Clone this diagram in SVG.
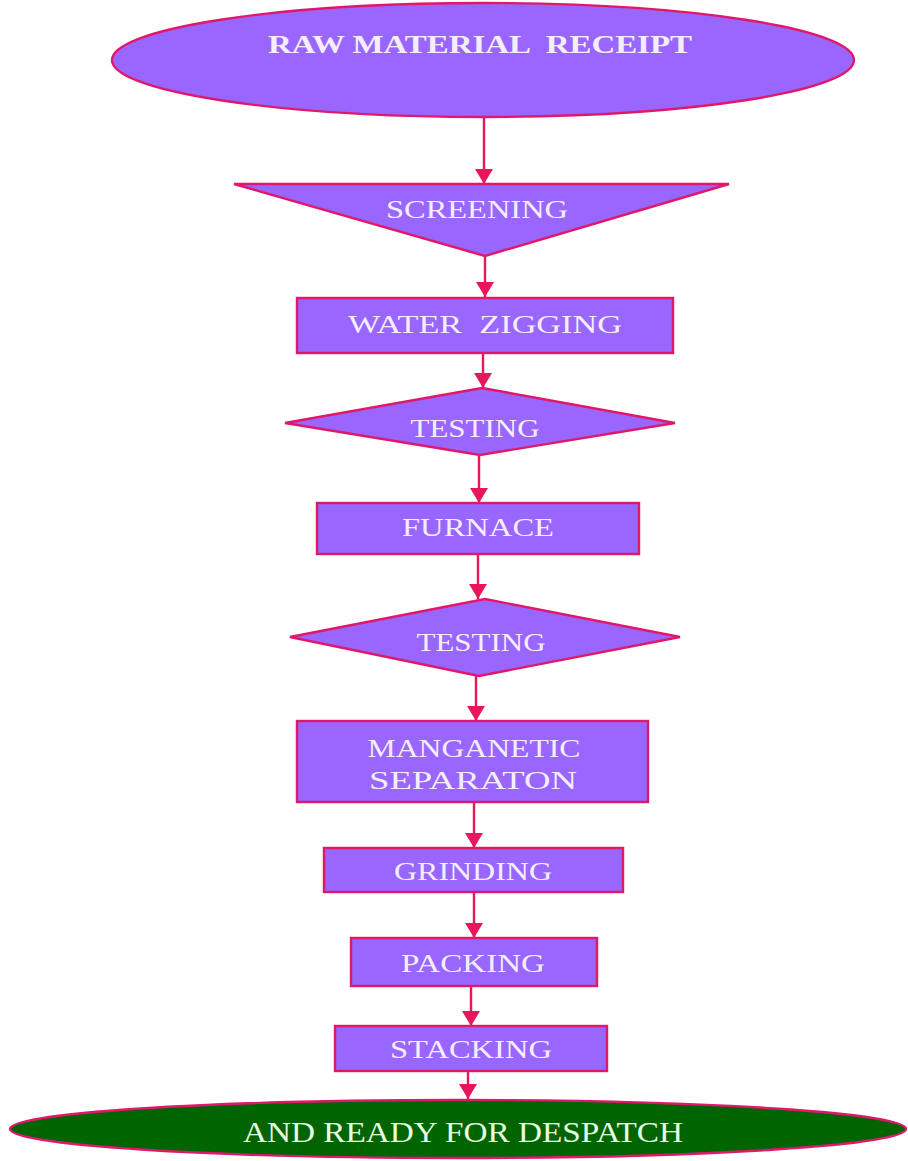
<svg xmlns="http://www.w3.org/2000/svg" width="908" height="1161" viewBox="0 0 908 1161">
<style>
.n{fill:#9966ff;stroke:#e0186c;stroke-width:2.4}
.end{fill:#006400;stroke:#e0186c;stroke-width:2.4}
.t{font-family:"Liberation Serif","Times New Roman",serif;font-size:26px;fill:#f4eefc;text-anchor:middle}
.b{font-weight:bold}
.g{fill:#e6ffe0;font-size:29px}
.c line{stroke:#e8175d;stroke-width:2.4;marker-end:url(#ah)}
</style>
<defs>
<marker id="ah" markerUnits="userSpaceOnUse" viewBox="0 0 15 18" markerWidth="15" markerHeight="18" refX="15" refY="9" orient="auto">
<path d="M0,0 L15,9 L0,18 z" fill="#e8175d"/>
</marker>
</defs>
<rect width="908" height="1161" fill="#ffffff"/>
<g class="c" id="connectors">
<line x1="484" y1="117" x2="484" y2="184"/>
<line x1="485" y1="256" x2="485" y2="297"/>
<line x1="483" y1="353" x2="483" y2="388"/>
<line x1="479" y1="455" x2="479" y2="503"/>
<line x1="478" y1="554" x2="478" y2="599"/>
<line x1="476" y1="676" x2="476" y2="721"/>
<line x1="474" y1="802" x2="474" y2="848"/>
<line x1="474" y1="892" x2="474" y2="938"/>
<line x1="471" y1="986" x2="471" y2="1026"/>
<line x1="468" y1="1071" x2="468" y2="1099"/>
</g>
<g id="raw">
<ellipse class="n" cx="483" cy="60" rx="371" ry="57"/>
<text class="t b" x="480" y="53" textLength="424" lengthAdjust="spacingAndGlyphs" xml:space="preserve">RAW MATERIAL  RECEIPT</text>
</g>
<g id="screening">
<polygon class="n" points="234,184 729,184 485,256"/>
<text class="t" x="477" y="218" textLength="182" lengthAdjust="spacingAndGlyphs">SCREENING</text>
</g>
<g id="water">
<rect class="n" x="297" y="298" width="376" height="55"/>
<text class="t" x="485" y="333" textLength="274" lengthAdjust="spacingAndGlyphs" xml:space="preserve">WATER  ZIGGING</text>
</g>
<g id="testing1">
<polygon class="n" points="482,388 675,423 480,455 285,423"/>
<text class="t" x="475" y="437" textLength="129" lengthAdjust="spacingAndGlyphs">TESTING</text>
</g>
<g id="furnace">
<rect class="n" x="317" y="503" width="322" height="51"/>
<text class="t" x="478" y="536" textLength="152" lengthAdjust="spacingAndGlyphs">FURNACE</text>
</g>
<g id="testing2">
<polygon class="n" points="485,599 680,637 479,676 290,637"/>
<text class="t" x="481" y="651" textLength="129" lengthAdjust="spacingAndGlyphs">TESTING</text>
</g>
<g id="magnetic">
<rect class="n" x="297" y="721" width="351" height="81"/>
<text class="t" x="474" y="757" textLength="213" lengthAdjust="spacingAndGlyphs">MANGANETIC</text>
<text class="t" x="473" y="789" textLength="208" lengthAdjust="spacingAndGlyphs">SEPARATON</text>
</g>
<g id="grinding">
<rect class="n" x="324" y="848" width="299" height="44"/>
<text class="t" x="473" y="880" textLength="158" lengthAdjust="spacingAndGlyphs">GRINDING</text>
</g>
<g id="packing">
<rect class="n" x="351" y="938" width="246" height="48"/>
<text class="t" x="473" y="972" textLength="144" lengthAdjust="spacingAndGlyphs">PACKING</text>
</g>
<g id="stacking">
<rect class="n" x="335" y="1026" width="272" height="45"/>
<text class="t" x="471" y="1058" textLength="162" lengthAdjust="spacingAndGlyphs">STACKING</text>
</g>
<g id="despatch">
<ellipse class="end" cx="458" cy="1129" rx="448" ry="29"/>
<text class="t g" x="463" y="1142" textLength="440" lengthAdjust="spacingAndGlyphs">AND READY FOR DESPATCH</text>
</g>
</svg>
